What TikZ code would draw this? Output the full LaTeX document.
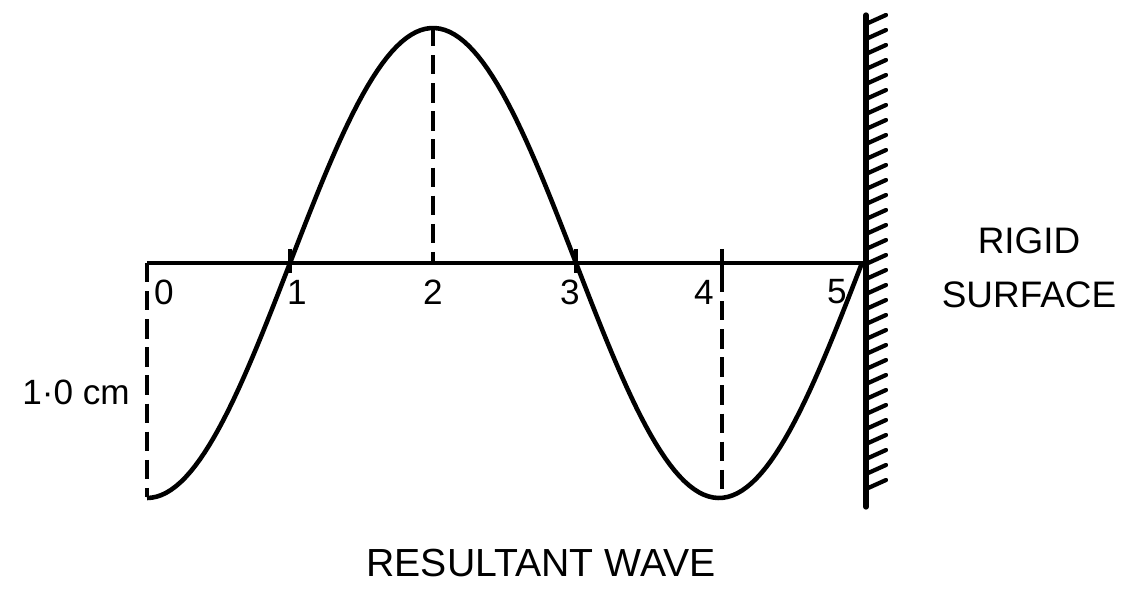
\documentclass[tikz,border=0pt]{standalone}
\usepackage{fontspec}
\setmainfont{Liberation Sans}
\begin{document}
\begin{tikzpicture}[x=0.02cm, y=-0.02cm, line cap=butt]

    \tikzstyle{axisline}=[line width=2.5pt]
    \tikzstyle{wave}=[line width=2.6pt, line join=round]
    \tikzstyle{guide}=[line width=2.1pt, dash pattern=on 11pt off 5pt]
    \tikzstyle{tick}=[line width=2.8pt]
    \tikzstyle{wall}=[line width=3pt, line cap=round]
    \tikzstyle{hatch}=[line width=2.4pt, line cap=round]
    \tikzstyle{numlabel}=[inner sep=0pt, font=\fontsize{20}{24}\selectfont]
    \tikzstyle{caption}=[inner sep=0pt, align=center, font=\fontsize{21}{31}\selectfont]

    \useasboundingbox (0,0) rectangle (1127,591);

    % axis and guide points
    \coordinate (o) at (147,263);
    \coordinate (e) at (864,263);
    \coordinate (low0) at (147,497);
    \coordinate (top2) at (433,27);
    \coordinate (ax2) at (433,263);
    \coordinate (low4) at (722,497);
    \foreach \n/\x in {1/290, 3/576, 4/722} {
        \coordinate (tu\n) at (\x,249);
        \coordinate (td\n) at (\x,273);
    }
    \coordinate (walltop) at (866,15);
    \coordinate (wallbot) at (866,507);

    \draw[axisline] (o) -- (e);
    \draw[guide] (o) -- (low0);
    \draw[guide] (top2) -- (ax2);
    \draw[guide] (td4) -- (low4);
    \foreach \n in {1, 3, 4} {
        \draw[tick] (tu\n) -- (td\n);
    }

    % resultant wave
    \draw[wave] plot[domain=0:715, samples=150] ({147+\x}, {263+235*cos(0.629371*\x)});

    % rigid wall
    \draw[wall] (walltop) -- (wallbot);
    \foreach \y in {24,39,...,494} {
        \draw[hatch] (866,\y) -- ++(20,-9);
    }

    % labels
    \foreach \i/\x in {0/164, 1/297, 2/433, 3/570, 4/704, 5/837} {
        \node[numlabel] (n\i) at (\x,292) {\i};
    }
    \node[numlabel] (amp) at (76,392) {1·0 cm};
    \node[caption] (rigid) at (1029,268) {RIGID\\SURFACE};
    \node[caption, font=\fontsize{22.3}{31}\selectfont] (title) at (541,563) {RESULTANT WAVE};

\end{tikzpicture}
\end{document}
